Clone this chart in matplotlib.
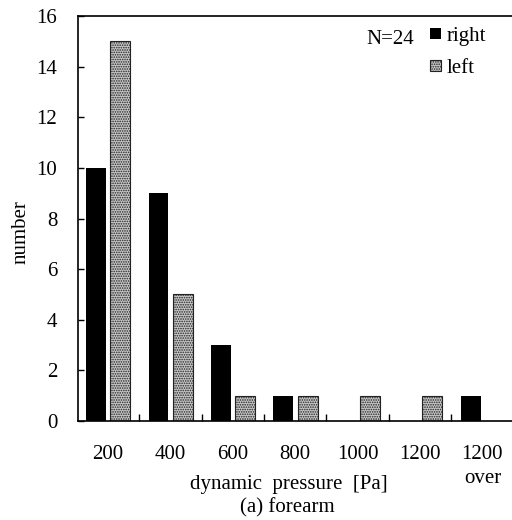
import numpy as np
import matplotlib.pyplot as plt

# data
categories = ['200', '400', '600', '800', '1000', '1200', '1200\nover']
right_counts = [10, 9, 3, 1, 0, 0, 1]
left_counts = [15, 5, 1, 1, 1, 1, 0]

plt.rcParams['font.family'] = ['Liberation Serif', 'DejaVu Serif']
plt.rcParams['hatch.linewidth'] = 0.8

W, H = 512, 520
fig = plt.figure(figsize=(W / 100, H / 100), dpi=100)
# axes box in pixels: left spine at x=78, y from 16 (top) to 421 (bottom)
ax = fig.add_axes([78 / W, (H - 421) / H, 435.6 / W, 405 / H])

x = np.arange(len(categories))
w = 0.32
ax.bar(x - 0.19, right_counts, w, color='black', linewidth=0, label='right')
ax.bar(x + 0.20, left_counts, w, color='#c8c8c8', edgecolor='#222222',
       hatch='.......', linewidth=0.8, label='left')

ax.set_xlim(-0.48, 6.5)
ax.set_ylim(0, 16)
ax.set_yticks(range(0, 17, 2))
ax.set_xticks(x)
ax.set_xticklabels(categories, fontsize=15, va='top', linespacing=1.35)
ax.set_xticks(x[:-1] + 0.5, minor=True)
ax.tick_params(axis='x', which='major', length=0, pad=17)
ax.tick_params(axis='x', which='minor', direction='in', length=5, width=1)
ax.tick_params(axis='y', direction='in', length=4, width=1, labelsize=15, pad=15)

ax.spines['right'].set_visible(False)
for s in ['left', 'bottom', 'top']:
    ax.spines[s].set_linewidth(1.2)

fig.text(21 / W, 1 - 232 / H, 'number', rotation=90, ha='center', va='center', fontsize=15)
fig.text(289 / W, 1 - 484 / H, 'dynamic  pressure  [Pa]', ha='center', va='center', fontsize=15)
fig.text(287 / W, 1 - 508 / H, '(a) forearm', ha='center', va='center', fontsize=15)

fig.text(390 / W, 1 - 40 / H, 'N=24', fontsize=15, va='center', ha='center')
ax.legend(loc='upper left', bbox_to_anchor=(430 / W, 1 - 27 / H), bbox_transform=fig.transFigure,
          frameon=False, fontsize=15, borderpad=0, borderaxespad=0,
          handlelength=0.55, handleheight=0.45, handletextpad=0.25, labelspacing=0.62)

fig.savefig('out.png', dpi=100)
